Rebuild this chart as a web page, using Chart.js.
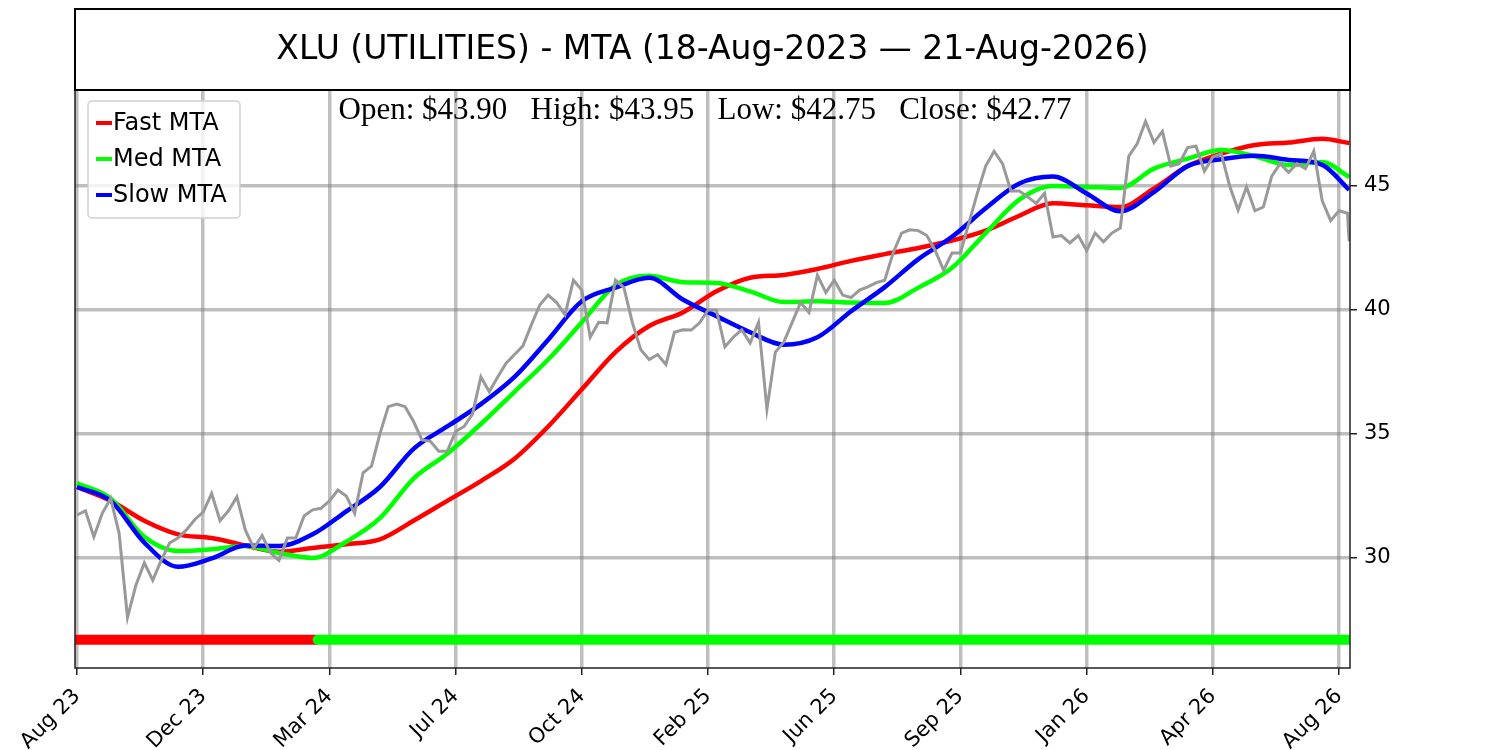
<!DOCTYPE html>
<html>
<head>
<meta charset="utf-8">
<title>XLU (UTILITIES) - MTA</title>
<script src="https://cdn.jsdelivr.net/npm/chart.js@4.4.1/dist/chart.umd.min.js"></script>
<style>
    html, body { margin: 0; padding: 0; background: #fff; }
    #wrap { width: 1500px; height: 750px; }
</style>
</head>
<body>
<div id="wrap"><canvas id="chartMta"></canvas></div>
<script>
// Eje X en días de mercado desde el 18-Aug-2023
const xTickDays = [0, 75, 150, 225, 300, 375, 450, 525, 600, 675, 750];
const xTickLabels = ['Aug 23', 'Dec 23', 'Mar 24', 'Jul 24', 'Oct 24', 'Feb 25', 'Jun 25', 'Sep 25', 'Jan 26', 'Apr 26', 'Aug 26'];
const yTicks = [30, 35, 40, 45];

// Cierre, una lectura cada 5 días
const priceStep = 5;
const priceClose = [
    31.73, 31.9, 30.85, 31.8, 32.4, 31.0, 27.6, 28.9, 29.8, 29.1,
    29.9, 30.6, 30.8, 31.13, 31.55, 31.85, 32.6, 31.5, 31.9, 32.46,
    31.13, 30.4, 30.9, 30.2, 29.9, 30.8, 30.8, 31.7, 31.94, 32.0,
    32.3, 32.74, 32.5, 31.8, 33.43, 33.7, 35.0, 36.1, 36.2, 36.1,
    35.5, 34.76, 34.7, 34.3, 34.3, 35.1, 35.3, 35.8, 37.3, 36.7,
    37.3, 37.85, 38.2, 38.55, 39.4, 40.2, 40.6, 40.3, 39.8, 41.2,
    40.8, 38.9, 39.5, 39.48, 41.2, 40.9, 39.5, 38.4, 38.0, 38.2,
    37.8, 39.1, 39.2, 39.19, 39.48, 40.0, 40.0, 38.51, 38.9, 39.2,
    38.67, 39.5, 36.0, 38.3, 38.7, 39.5, 40.3, 39.9, 41.4, 40.7,
    41.2, 40.6, 40.5, 40.8, 40.93, 41.1, 41.2, 42.3, 43.1, 43.23,
    43.2, 43.0, 42.4, 41.6, 42.3, 42.3, 43.5, 44.7, 45.8, 46.4,
    45.9, 44.8, 44.8, 44.56, 44.3, 44.7, 42.94, 43.0, 42.7, 43.0,
    42.4, 43.1, 42.75, 43.1, 43.3, 46.2, 46.7, 47.6, 46.75, 47.2,
    45.8, 45.9, 46.55, 46.6, 45.6, 46.17, 46.3, 45.0, 44.03, 44.96,
    44.0, 44.15, 45.4, 45.9, 45.55, 45.9, 45.7, 46.4, 44.4, 43.6,
    44.0, 43.9
];
const lastDay = 756;
const lastClose = 42.77;

// Medias MTA, una lectura cada 20 días + último día
const mtaStep = 20;
const fastMta = [
    32.86, 32.3, 31.5, 30.95, 30.8, 30.5, 30.25, 30.4, 30.55, 30.75,
    31.5, 32.3, 33.1, 34.0, 35.3, 36.8, 38.3, 39.35, 39.9, 40.75,
    41.3, 41.41, 41.65, 41.98, 42.25, 42.5, 42.8, 43.2, 43.8, 44.3,
    44.22, 44.15, 44.9, 45.8, 46.3, 46.65, 46.75, 46.9, 46.73
];
const medMta = [
    33.02, 32.4, 30.85, 30.28, 30.35, 30.48, 30.2, 30.0, 30.65, 31.6,
    33.2, 34.2, 35.4, 36.7, 38.0, 39.5, 41.0, 41.38, 41.12, 41.09,
    40.75, 40.32, 40.35, 40.3, 40.28, 40.9, 41.7, 43.1, 44.45, 45.0,
    44.96, 44.92, 45.7, 46.1, 46.45, 46.2, 45.85, 45.97, 45.36
];
const slowMta = [
    32.86, 32.3, 30.62, 29.64, 29.98, 30.5, 30.48, 30.95, 31.88, 32.86,
    34.4, 35.3, 36.2, 37.3, 38.8, 40.35, 40.9, 41.3, 40.42, 39.75,
    39.1, 38.6, 38.9, 39.95, 40.92, 42.05, 42.95, 44.1, 45.1, 45.38,
    44.7, 43.98, 44.75, 45.8, 46.08, 46.22, 46.05, 45.85, 44.84
];

// Señal: rojo hasta el día 143, luego verde (de borde a borde del eje)
const signalDays = [-3, 143, 760];
const signalColors = ['#ff0000', '#00ff00'];
const signalLevel = 26.7;

const ohlc = { open: 43.90, high: 43.95, low: 42.75, close: 42.77 };
const chartTitle = 'XLU (UTILITIES) - MTA (18-Aug-2023 \u2014 21-Aug-2026)';

const legendItems = [
    { label: 'Fast MTA', color: '#ff0000' },
    { label: 'Med MTA', color: '#00ff00' },
    { label: 'Slow MTA', color: '#0000ff' }
];

function priceSeries() {
    const pts = priceClose.map((v, i) => ({ x: i * priceStep, y: v }));
    pts.push({ x: lastDay, y: lastClose });
    return pts;
}

function mtaSeries(values) {
    return values.map((v, i) => ({ x: i === values.length - 1 ? lastDay : i * mtaStep, y: v }));
}

const fmt = v => '$' + v.toFixed(2);

const chromePlugin = {
    id: 'chrome',
    afterDraw(chart) {
        const { ctx, chartArea: a } = chart;
        ctx.save();

        // marco del gráfico
        ctx.strokeStyle = '#222';
        ctx.lineWidth = 1.5;
        ctx.strokeRect(a.left, a.top, a.right - a.left, a.bottom - a.top);

        // caja del título
        ctx.strokeStyle = '#000';
        ctx.lineWidth = 2;
        ctx.strokeRect(a.left, 9, a.right - a.left, a.top - 9);
        ctx.fillStyle = '#000';
        ctx.textAlign = 'center';
        ctx.textBaseline = 'middle';
        ctx.font = '33px "DejaVu Sans"';
        ctx.fillText(chartTitle, (a.left + a.right) / 2, (9 + a.top) / 2 + 1);

        // OHLC del último día
        ctx.font = '31px "Liberation Serif"';
        const txt = `Open: ${fmt(ohlc.open)}   High: ${fmt(ohlc.high)}   Low: ${fmt(ohlc.low)}   Close: ${fmt(ohlc.close)}`;
        ctx.fillText(txt, 705, a.top + 21);

        // leyenda
        const lx = 88, ly = 101, lw = 152, lh = 117;
        ctx.beginPath();
        ctx.roundRect(lx, ly, lw, lh, 4);
        ctx.fillStyle = 'rgba(255,255,255,0.8)';
        ctx.fill();
        ctx.strokeStyle = '#d0d0d0';
        ctx.lineWidth = 1.5;
        ctx.stroke();
        ctx.font = '24px "DejaVu Sans"';
        ctx.textAlign = 'left';
        legendItems.forEach((it, i) => {
            const y = ly + 22 + i * 36;
            ctx.strokeStyle = it.color;
            ctx.lineWidth = 4;
            ctx.beginPath();
            ctx.moveTo(96, y);
            ctx.lineTo(112, y);
            ctx.stroke();
            ctx.fillStyle = '#000';
            ctx.fillText(it.label, 113, y + 1);
        });

        ctx.restore();
    }
};

const lineBase = { pointRadius: 0, pointHoverRadius: 0, fill: false, clip: 0 };

new Chart(document.getElementById('chartMta'), {
    type: 'line',
    data: {
        datasets: [
            { ...lineBase, label: 'Close', data: priceSeries(), borderColor: '#999999', borderWidth: 3, tension: 0, borderJoinStyle: 'miter', order: 1 },
            { ...lineBase, label: 'Slow MTA', data: mtaSeries(slowMta), borderColor: '#0000ff', borderWidth: 4.5, cubicInterpolationMode: 'monotone', order: 2 },
            { ...lineBase, label: 'Med MTA', data: mtaSeries(medMta), borderColor: '#00ff00', borderWidth: 4.5, cubicInterpolationMode: 'monotone', order: 3 },
            { ...lineBase, label: 'Fast MTA', data: mtaSeries(fastMta), borderColor: '#ff0000', borderWidth: 4.5, cubicInterpolationMode: 'monotone', order: 4 },
            ...signalColors.map((c, i) => ({
                ...lineBase, label: 'Signal ' + i,
                data: [{ x: signalDays[i], y: signalLevel }, { x: signalDays[i + 1], y: signalLevel }],
                borderColor: c, borderWidth: 10, borderCapStyle: i === 0 ? 'butt' : 'round', order: 6 - i
            }))
        ]
    },
    options: {
        responsive: true, maintainAspectRatio: false,
        animation: false,
        layout: { padding: { left: 75, top: 90, right: 0, bottom: 0 } },
        plugins: { legend: { display: false }, tooltip: { enabled: false }, title: { display: false } },
        scales: {
            x: {
                type: 'linear', min: -1.2, max: 756.5,
                afterBuildTicks: s => { s.ticks = xTickDays.map(v => ({ value: v })); },
                afterFit: s => { s.height = 82; },
                ticks: {
                    autoSkip: false, minRotation: 45, maxRotation: 45, padding: 9,
                    color: '#000', font: { family: 'DejaVu Sans', size: 21 },
                    callback: v => xTickLabels[xTickDays.indexOf(v)]
                },
                grid: { color: 'rgba(128,128,128,0.5)', lineWidth: 3.5, tickColor: '#222', tickWidth: 1.5, tickLength: 7 },
                border: { display: false }
            },
            y: {
                type: 'linear', position: 'right', min: 25.56, max: 48.87,
                afterBuildTicks: s => { s.ticks = yTicks.map(v => ({ value: v })); },
                afterFit: s => { s.width = 150; },
                ticks: { color: '#000', padding: 7, font: { family: 'DejaVu Sans', size: 21 } },
                grid: { color: 'rgba(128,128,128,0.5)', lineWidth: 3.5, tickColor: '#222', tickWidth: 1.5, tickLength: 7 },
                border: { display: false }
            }
        }
    },
    plugins: [chromePlugin]
});
</script>
</body>
</html>
